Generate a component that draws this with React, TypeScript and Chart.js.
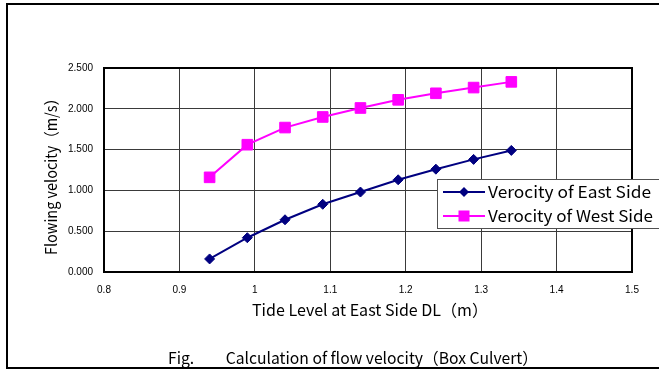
import React, { useEffect, useRef } from "react";
import { Chart, registerables } from "chart.js";

Chart.register(...registerables);

const tideLevels = [0.94, 0.99, 1.04, 1.09, 1.14, 1.19, 1.24, 1.29, 1.34];
const eastVelocity = [0.16, 0.42, 0.64, 0.83, 0.98, 1.13, 1.26, 1.38, 1.49];
const westVelocity = [1.16, 1.56, 1.77, 1.9, 2.01, 2.11, 2.19, 2.26, 2.33];
const seriesNames = ["Verocity of East Side", "Verocity of West Side"];
const seriesColors = ["#000080", "#FF00FF"];
const xTitle = "Tide Level at East Side DL（m）";
const yTitle = "Flowing velocity（m/s）";
const caption = "Fig.　　Calculation of flow velocity（Box Culvert）";

const W = 659;
const H = 370;
const JP = '"Noto Sans CJK JP", "Noto Sans", sans-serif';

function drawDiamond(ctx: CanvasRenderingContext2D, x: number, y: number, r: number, color: string) {
  ctx.beginPath();
  ctx.moveTo(x - r, y);
  ctx.lineTo(x, y - r);
  ctx.lineTo(x + r, y);
  ctx.lineTo(x, y + r);
  ctx.closePath();
  ctx.fillStyle = color;
  ctx.fill();
}

function drawSquare(ctx: CanvasRenderingContext2D, x: number, y: number, h: number, color: string) {
  ctx.fillStyle = color;
  ctx.fillRect(x - h, y - h, 2 * h, 2 * h);
}

// draws text starting at x (left) fitted horizontally to the given width
function wideText(ctx: CanvasRenderingContext2D, text: string, x: number, y: number, width: number) {
  const m = ctx.measureText(text).width;
  const sx = width / m;
  ctx.save();
  ctx.translate(x, y);
  ctx.scale(sx, 1);
  ctx.textAlign = "left";
  ctx.textBaseline = "middle";
  ctx.fillText(text, 0, 0);
  ctx.restore();
}

const decorPlugin = {
  id: "decor",
  beforeDraw(chart: any) {
    const ctx = chart.ctx as CanvasRenderingContext2D;
    ctx.save();
    ctx.fillStyle = "#ffffff";
    ctx.fillRect(0, 0, W, H);
    ctx.restore();
  },
  afterDraw(chart: any) {
    const ctx = chart.ctx as CanvasRenderingContext2D;
    const a = chart.chartArea;
    ctx.save();
    // plot border
    ctx.strokeStyle = "#000000";
    ctx.lineWidth = 2;
    ctx.strokeRect(a.left, a.top, a.right - a.left, a.bottom - a.top);

    // outer frame
    ctx.beginPath();
    ctx.moveTo(W + 2, 4);
    ctx.lineTo(7, 4);
    ctx.lineTo(7, 368);
    ctx.lineTo(W + 2, 368);
    ctx.stroke();

    // axis titles
    ctx.fillStyle = "#000000";
    ctx.font = `16px ${JP}`;
    wideText(ctx, xTitle, 252, 310, 236);

    ctx.save();
    ctx.translate(51, 255);
    ctx.rotate(-Math.PI / 2);
    wideText(ctx, yTitle, 0, 0, 164);
    ctx.restore();

    // caption
    wideText(ctx, caption, 168, 358, 370);

    // legend
    const lx = 437.5;
    const ly = 179.5;
    ctx.fillStyle = "#ffffff";
    ctx.fillRect(lx, ly, W - lx + 30, 49);
    ctx.strokeStyle = "#505050";
    ctx.lineWidth = 1;
    ctx.strokeRect(lx, ly, W - lx + 30, 49);
    const rows = [192, 216];
    const widths = [163, 165];
    rows.forEach((yy, i) => {
      ctx.strokeStyle = seriesColors[i];
      ctx.lineWidth = 2;
      ctx.beginPath();
      ctx.moveTo(443, yy);
      ctx.lineTo(485, yy);
      ctx.stroke();
      if (i === 0) drawDiamond(ctx, 464, yy, 5, seriesColors[i]);
      else drawSquare(ctx, 464, yy, 5.5, seriesColors[i]);
      ctx.fillStyle = "#000000";
      ctx.font = `16px ${JP}`;
      wideText(ctx, seriesNames[i], 488, yy, widths[i]);
    });
    ctx.restore();
  },
};

export default function App() {
  const ref = useRef<HTMLCanvasElement | null>(null);
  useEffect(() => {
    if (!ref.current) return;
    const chart = new Chart(ref.current, {
      type: "line",
      data: {
        datasets: [
          {
            label: seriesNames[0],
            data: tideLevels.map((x, i) => ({ x, y: eastVelocity[i] })),
            borderColor: seriesColors[0],
            backgroundColor: seriesColors[0],
            borderWidth: 2,
            pointStyle: "rectRot",
            pointRadius: 5,
            pointBorderWidth: 1,
            tension: 0,
          },
          {
            label: seriesNames[1],
            data: tideLevels.map((x, i) => ({ x, y: westVelocity[i] })),
            borderColor: seriesColors[1],
            backgroundColor: seriesColors[1],
            borderWidth: 2,
            pointStyle: "rect",
            pointRadius: 7.5,
            pointBorderWidth: 1,
            tension: 0,
          },
        ],
      },
      options: {
        responsive: false,
        animation: false,
        devicePixelRatio: 1,
        layout: { padding: { left: 0, top: 68, right: 27, bottom: 0 } },
        plugins: {
          legend: { display: false },
          tooltip: { enabled: false },
          title: { display: false },
        },
        scales: {
          x: {
            type: "linear",
            min: 0.8,
            max: 1.5,
            afterFit: (s: any) => {
              s.height = 98;
            },
            ticks: {
              stepSize: 0.1,
              padding: 12,
              color: "#000000",
              font: { family: '"Liberation Sans", Arial, sans-serif', size: 10 },
              maxRotation: 0,
              callback: (v: any) => String(Number(Number(v).toFixed(1))),
            },
            grid: { color: "#3a3a3a", lineWidth: 1, drawTicks: false },
            border: { display: false },
          },
          y: {
            type: "linear",
            min: 0,
            max: 2.5,
            afterFit: (s: any) => {
              s.width = 104;
            },
            ticks: {
              stepSize: 0.5,
              padding: 11,
              color: "#000000",
              font: { family: '"Liberation Sans", Arial, sans-serif', size: 10 },
              callback: (v: any) => Number(v).toFixed(3),
            },
            grid: { color: "#3a3a3a", lineWidth: 1, drawTicks: false },
            border: { display: false },
          },
        },
      },
      plugins: [decorPlugin],
    });
    return () => chart.destroy();
  }, []);
  return (
    <div style={{ position: "fixed", left: 0, top: 0, width: W, height: H, background: "#fff" }}>
      <canvas ref={ref} width={W} height={H} style={{ width: W, height: H, display: "block" }} />
    </div>
  );
}
